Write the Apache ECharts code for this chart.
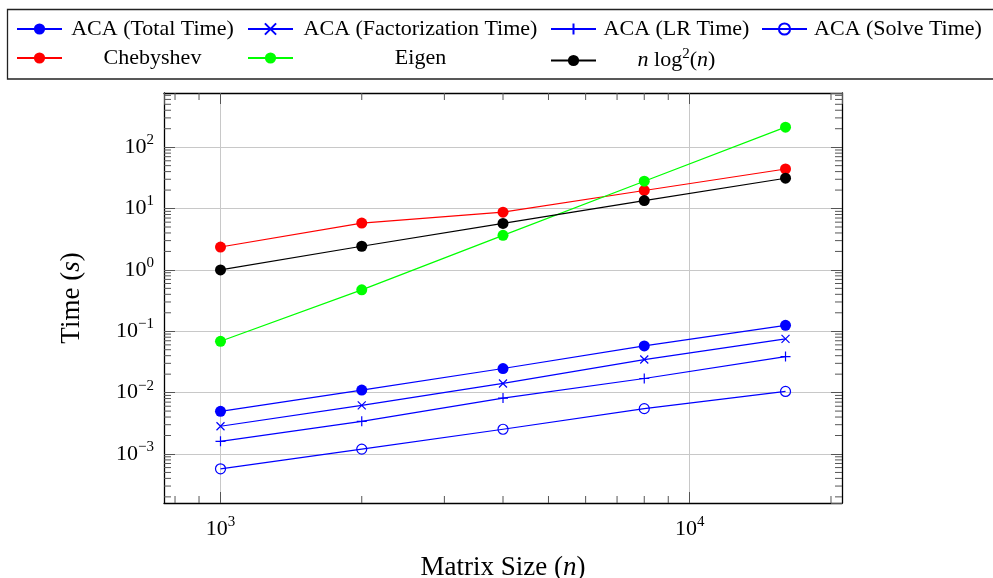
<!DOCTYPE html>
<html>
<head>
<meta charset="utf-8">
<script src="https://cdn.jsdelivr.net/npm/echarts@6/dist/echarts.min.js"></script>
<style>
  html, body { margin: 0; padding: 0; background: #fff; }
  #chart { width: 993px; height: 578px; }
</style>
</head>
<body>
<div id="chart"></div>
<script>
// Matrix sizes (n) and measured run times in seconds
const sizes = [1000, 2000, 4000, 8000, 16000];
const acaTotal = [0.00495, 0.0110, 0.0247, 0.0577, 0.125];
const acaFactorization = [0.00283, 0.0062, 0.0141, 0.0346, 0.075];
const acaLowRank = [0.00161, 0.00341, 0.00815, 0.0170, 0.0387];
const acaSolve = [0.000573, 0.00120, 0.00253, 0.00548, 0.01045];
const chebyshev = [2.36, 5.79, 8.74, 19.7, 44.1];
const eigen = [0.0686, 0.473, 3.66, 27.9, 212];
const nLog2n = [1.0, 2.43, 5.73, 13.5, 31.2];

// Minor tick positions (between the decades)
const xMinorTicks = [800, 900, 2000, 3000, 4000, 5000, 6000, 7000, 8000, 9000, 20000];
const yMinorTicks = [
  2e-4, 3e-4, 4e-4, 5e-4, 6e-4, 7e-4, 8e-4, 9e-4,
  2e-3, 3e-3, 4e-3, 5e-3, 6e-3, 7e-3, 8e-3, 9e-3,
  2e-2, 3e-2, 4e-2, 5e-2, 6e-2, 7e-2, 8e-2, 9e-2,
  0.2, 0.3, 0.4, 0.5, 0.6, 0.7, 0.8, 0.9,
  2, 3, 4, 5, 6, 7, 8, 9,
  20, 30, 40, 50, 60, 70, 80, 90,
  200, 300, 400, 500, 600, 700
];

const SERIF = "'Liberation Serif', 'DejaVu Serif', serif";
const BLUE = '#0000ff', RED = '#ff0000', GREEN = '#00ff00', BLACK = '#000000';
const TICK_COLOR = '#555';
const MAJOR_LEN = 11, MINOR_LEN = 7;
const GRID = { left: 164, top: 93, width: 678, height: 410 };

// axis ranges with 10% padding in log space
const X_MIN = Math.pow(10, 2.8796), X_MAX = Math.pow(10, 4.3245);
const Y_MIN = Math.pow(10, -3.799), Y_MAX = Math.pow(10, 2.883);

const NLOG_NAME = 'n log²(n)';

function powerLabel(v) {
  const e = Math.round(Math.log10(v));
  const exp = e < 0 ? '\u2212' + Math.abs(e) : String(e);
  return '{b|10}{s|' + exp + '}';
}

// superscripts are lifted with bottom padding inside a shared line box
const tickRich = {
  b: { fontFamily: SERIF, fontSize: 22, lineHeight: 26, color: '#000' },
  s: { fontFamily: SERIF, fontSize: 15, lineHeight: 12, padding: [0, 0, 14, 0], color: '#000' }
};

function lineSeries(name, values, color, symbol, symbolSize, hollow) {
  return {
    name: name,
    type: 'line',
    data: sizes.map((n, i) => [n, values[i]]),
    symbol: symbol,
    symbolSize: symbolSize,
    showSymbol: true,
    lineStyle: { color: color, width: 1.2 },
    itemStyle: hollow
      ? { color: 'rgba(0,0,0,0)', borderColor: color, borderWidth: 1.2 }
      : { color: color, borderColor: color, borderWidth: symbol === 'circle' ? 0 : 1.2 },
    emphasis: { disabled: true },
    z: 3
  };
}

const CROSS = 'path://M0,0L10,10M10,0L0,10';
const PLUS = 'path://M5,0L5,10M0,5L10,5';

function minorX(params, api) {
  const cs = params.coordSys;
  const px = api.coord([api.value(0), api.value(1)])[0];
  const yb = cs.y + cs.height, yt = cs.y;
  const st = { stroke: TICK_COLOR, lineWidth: 1 };
  return { type: 'group', children: [
    { type: 'line', shape: { x1: px, y1: yb, x2: px, y2: yb - MINOR_LEN }, style: st },
    { type: 'line', shape: { x1: px, y1: yt, x2: px, y2: yt + MINOR_LEN }, style: st }
  ] };
}
function minorY(params, api) {
  const cs = params.coordSys;
  const py = api.coord([api.value(0), api.value(1)])[1];
  const xl = cs.x, xr = cs.x + cs.width;
  const st = { stroke: TICK_COLOR, lineWidth: 1 };
  return { type: 'group', children: [
    { type: 'line', shape: { x1: xl, y1: py, x2: xl + MINOR_LEN, y2: py }, style: st },
    { type: 'line', shape: { x1: xr, y1: py, x2: xr - MINOR_LEN, y2: py }, style: st }
  ] };
}

const LEGEND_FONT = 22;
const legendTextRich = {
  r: { fontFamily: SERIF, fontSize: LEGEND_FONT, lineHeight: 16, color: '#000', align: 'center' },
  i: { fontFamily: SERIF, fontSize: LEGEND_FONT, lineHeight: 16, fontStyle: 'italic', color: '#000', align: 'center' },
  s: { fontFamily: SERIF, fontSize: 15, lineHeight: 4, padding: [0, 0, 12, 0], color: '#000', align: 'center' }
};
function legendFormatter(name) {
  if (name === NLOG_NAME) return '{i|n}{r| log}{s|2}{r|(}{i|n}{r|)}';
  return '{r|' + name + '}';
}
function legendColumn(left, names, textWidth) {
  return {
    orient: 'vertical',
    left: left,
    top: 18,
    padding: 0,
    itemWidth: 45,
    itemHeight: 14,
    itemGap: 7,
    selectedMode: false,
    data: names,
    formatter: legendFormatter,
    textStyle: { width: textWidth, fontFamily: SERIF, fontSize: LEGEND_FONT, color: '#000', rich: legendTextRich }
  };
}

const axisCommon = {
  type: 'log',
  logBase: 10,
  axisLine: { show: true, onZero: false, lineStyle: { color: '#000', width: 1.3 } },
  axisTick: { show: true, inside: true, length: MAJOR_LEN, lineStyle: { color: TICK_COLOR, width: 1 } },
  minorTick: { show: false },
  minorSplitLine: { show: false }
};

const nameRich = {
  r: { fontFamily: SERIF, fontSize: 27, color: '#000' },
  i: { fontFamily: SERIF, fontSize: 27, fontStyle: 'italic', color: '#000' }
};

const chart = echarts.init(document.getElementById('chart'), null, { renderer: 'canvas' });

chart.setOption({
  animation: false,
  backgroundColor: '#fff',
  grid: Object.assign({ containLabel: false, outerBoundsMode: 'none' }, GRID),
  legend: [
    legendColumn(16, ['ACA (Total Time)', 'Chebyshev'], 171),
    legendColumn(247, ['ACA (Factorization Time)', 'Eigen'], 245),
    legendColumn(550, ['ACA (LR Time)', NLOG_NAME], 151),
    legendColumn(761, ['ACA (Solve Time)'], 172)
  ],
  xAxis: [
    Object.assign({}, axisCommon, {
      position: 'bottom',
      min: X_MIN, max: X_MAX,
      axisLabel: { show: true, margin: 13, showMinLabel: false, showMaxLabel: false,
        formatter: powerLabel, rich: tickRich },
      splitLine: { show: true, showMinLine: false, showMaxLine: false, lineStyle: { color: '#c8c8c8', width: 1 } },
      name: '{r|Matrix Size (}{i|n}{r|)}',
      nameLocation: 'middle',
      nameGap: 51,
      nameTextStyle: { fontFamily: SERIF, fontSize: 27, color: '#000', rich: nameRich }
    }),
    Object.assign({}, axisCommon, {
      position: 'top',
      min: X_MIN, max: X_MAX,
      axisLabel: { show: false },
      splitLine: { show: false }
    })
  ],
  yAxis: [
    Object.assign({}, axisCommon, {
      position: 'left',
      min: Y_MIN, max: Y_MAX,
      axisLabel: { show: true, margin: 10, showMinLabel: false, showMaxLabel: false,
        formatter: powerLabel, rich: tickRich },
      splitLine: { show: true, showMinLine: false, showMaxLine: false, lineStyle: { color: '#c8c8c8', width: 1 } },
      name: '{r|Time (}{i|s}{r|)}',
      nameLocation: 'middle',
      nameGap: 79,
      nameTextStyle: { fontFamily: SERIF, fontSize: 27, color: '#000', rich: nameRich }
    }),
    Object.assign({}, axisCommon, {
      position: 'right',
      min: Y_MIN, max: Y_MAX,
      axisLabel: { show: false },
      splitLine: { show: false }
    })
  ],
  graphic: [
    {
      type: 'rect',
      shape: { x: 7.5, y: 9.5, width: 1000, height: 69.5 },
      style: { fill: 'none', stroke: '#222', lineWidth: 1.3 },
      silent: true
    }
  ],
  series: [
    lineSeries('ACA (Total Time)', acaTotal, BLUE, 'circle', 11, false),
    lineSeries('ACA (Factorization Time)', acaFactorization, BLUE, CROSS, 8, false),
    lineSeries('ACA (LR Time)', acaLowRank, BLUE, PLUS, 10, false),
    lineSeries('ACA (Solve Time)', acaSolve, BLUE, 'circle', 10, true),
    lineSeries('Chebyshev', chebyshev, RED, 'circle', 11, false),
    lineSeries('Eigen', eigen, GREEN, 'circle', 11, false),
    lineSeries(NLOG_NAME, nLog2n, BLACK, 'circle', 11, false),
    {
      type: 'custom', silent: true, z: 4,
      data: xMinorTicks.map(v => [v, 1]),
      renderItem: minorX
    },
    {
      type: 'custom', silent: true, z: 4,
      data: yMinorTicks.map(v => [1000, v]),
      renderItem: minorY
    }
  ]
});
</script>
</body>
</html>
